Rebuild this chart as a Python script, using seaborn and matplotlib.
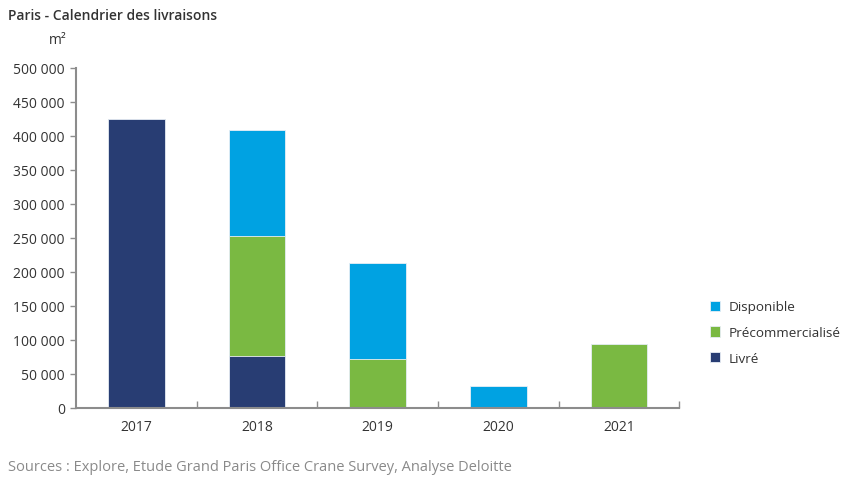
import pandas as pd
import matplotlib.pyplot as plt
import seaborn as sns

# ---------------- DATA ----------------
years = ["2017", "2018", "2019", "2020", "2021"]
livre = [425000, 76000, 0, 0, 0]
precommercialise = [0, 177000, 72000, 0, 94000]
disponible = [0, 156000, 141000, 32000, 0]

df = pd.DataFrame({
    "year": years,
    "livre": livre,
    "precom": precommercialise,
    "dispo": disponible,
})
df["top_precom"] = df["livre"] + df["precom"]
df["top_dispo"] = df["top_precom"] + df["dispo"]

c_livre = "#283d73"
c_precom = "#7ab942"
c_dispo = "#00a2e2"

sns.set_style("white")
plt.rcParams["font.family"] = ["Open Sans", "DejaVu Sans"]

fig = plt.figure(figsize=(8.51, 4.85), dpi=100)
ax = fig.add_axes([0.0893, 0.157, 0.709, 0.701])

# stacked bars: draw cumulative totals back to front
bar_kw = dict(width=0.47, saturation=1, ax=ax, edgecolor="#e8eef5", linewidth=0.6)
sns.barplot(data=df, x="year", y="top_dispo", color=c_dispo, label="Disponible", **bar_kw)
sns.barplot(data=df, x="year", y="top_precom", color=c_precom, label="Précommercialisé", **bar_kw)
sns.barplot(data=df, x="year", y="livre", color=c_livre, label="Livré", **bar_kw)

ax.set_xlim(-0.5, 4.5)
ax.set_ylim(0, 500000)
ax.set_yticks(range(0, 500001, 50000))
ax.set_yticklabels([f"{v:,}".replace(",", " ") for v in range(0, 500001, 50000)])
ax.set_xlabel("")
ax.set_ylabel("")

for s in ["top", "right"]:
    ax.spines[s].set_visible(False)
for s in ["left", "bottom"]:
    ax.spines[s].set_color("#8c8c8c")
    ax.spines[s].set_linewidth(1.5)

ax.tick_params(axis="y", which="major", direction="out", length=4, width=1,
               color="#8c8c8c", labelsize=10, labelcolor="#333333", pad=4, left=True)
ax.tick_params(axis="x", which="major", length=0, labelsize=10,
               labelcolor="#333333", pad=8)
ax.set_xticks([0.5, 1.5, 2.5, 3.5, 4.5], minor=True)
ax.tick_params(axis="x", which="minor", direction="in", length=5, width=1,
               color="#8c8c8c", bottom=True)

leg = ax.legend(loc="center left", bbox_to_anchor=(1.03, 0.221), frameon=False,
                fontsize=9.7, handlelength=0.8, handleheight=0.8,
                labelspacing=0.95, handletextpad=0.65, labelcolor="#333333")

fig.text(0.009, 0.968, "Paris - Calendrier des livraisons", fontsize=10,
         fontweight="semibold", color="#333333", va="center")
fig.text(0.058, 0.916, "m²", fontsize=10, color="#333333", va="center")
fig.text(0.009, 0.037, "Sources : Explore, Etude Grand Paris Office Crane Survey, Analyse Deloitte",
         fontsize=10.5, color="#8a8a8a", va="center")

fig.savefig("out.png", dpi=100)
